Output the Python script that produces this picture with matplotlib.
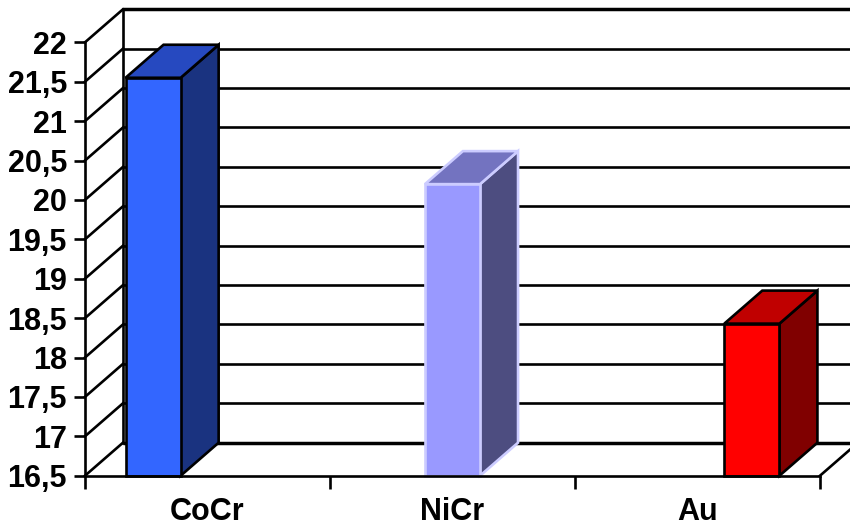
import numpy as np
import matplotlib
matplotlib.use("Agg")
import matplotlib.pyplot as plt
from matplotlib.patches import Polygon

plt.rcParams["font.family"] = ["Liberation Sans", "DejaVu Sans"]

categories = ["CoCr", "NiCr", "Au"]
values = [21.55, 20.2, 18.43]
y_ticks = np.arange(16.5, 22.01, 0.5)
y_labels = [f"{t:g}".replace(".", ",") for t in y_ticks]

front_colors = ["#3366FF", "#9999FF", "#FF0000"]
top_colors = ["#2649C0", "#7373C0", "#C00000"]
side_colors = ["#1A3380", "#4D4D80", "#800000"]
edge_colors = ["black", "#CCCCFF", "black"]

Y_MIN, Y_MAX = 16.5, 22.0
DX, DY = 0.155, 0.419       # depth offset of the back wall, in data units
BAR_W = 0.225
BAR_SHIFT = 0.222           # bars drift right across the categories
LW = 1.9

fig = plt.figure(figsize=(8.5, 5.26), dpi=100)
ax = fig.add_axes([85 / 850, 1 - 475.7 / 526, 735 / 850, 433.4 / 526])
ax.set_xlim(0, len(categories))
ax.set_ylim(Y_MIN, Y_MAX)
ax.patch.set_visible(False)
for name in ["top", "right"]:
    ax.spines[name].set_visible(False)
for name in ["left", "bottom"]:
    ax.spines[name].set_linewidth(LW)
    ax.spines[name].set_zorder(6)

# back wall grid and left wall diagonals
for t in y_ticks:
    lw = 2.5 if t in (Y_MIN, Y_MAX) else LW
    ax.plot([DX, len(categories) + DX], [t + DY, t + DY], color="black",
            lw=lw, clip_on=False, zorder=1, solid_capstyle="butt")
    ax.plot([0, DX], [t, t + DY], color="black", lw=LW, clip_on=False, zorder=1)
ax.plot([DX, DX], [Y_MIN + DY, Y_MAX + DY], color="black", lw=LW,
        clip_on=False, zorder=1)
ax.plot([len(categories), len(categories) + DX], [Y_MIN, Y_MIN + DY],
        color="black", lw=LW, clip_on=False, zorder=1)

# 3D bars: front face, top and side
for i, v in enumerate(values):
    x0 = i + 0.5 + (i - 1) * BAR_SHIFT - BAR_W / 2
    x1 = x0 + BAR_W
    front = [(x0, Y_MIN), (x1, Y_MIN), (x1, v), (x0, v)]
    top = [(x0, v), (x1, v), (x1 + DX, v + DY), (x0 + DX, v + DY)]
    side = [(x1, Y_MIN), (x1 + DX, Y_MIN + DY), (x1 + DX, v + DY), (x1, v)]
    for pts, fc in [(side, side_colors[i]), (top, top_colors[i]),
                    (front, front_colors[i])]:
        ax.add_patch(Polygon(pts, closed=True, facecolor=fc,
                             edgecolor=edge_colors[i], lw=LW, zorder=3,
                             clip_on=False, joinstyle="miter"))

ax.set_yticks(y_ticks)
ax.set_yticklabels(y_labels, fontsize=22, fontweight="bold")
ax.tick_params(axis="y", length=8, width=LW, pad=5)

ax.set_xticks(range(len(categories) + 1))
ax.set_xticklabels([])
ax.tick_params(axis="x", which="major", length=9, width=LW)
ax.set_xticks(np.arange(len(categories)) + 0.5, minor=True)
ax.set_xticklabels(categories, minor=True, fontsize=22, fontweight="bold")
ax.tick_params(axis="x", which="minor", length=0, pad=15)

fig.savefig("out.png", dpi=100)
